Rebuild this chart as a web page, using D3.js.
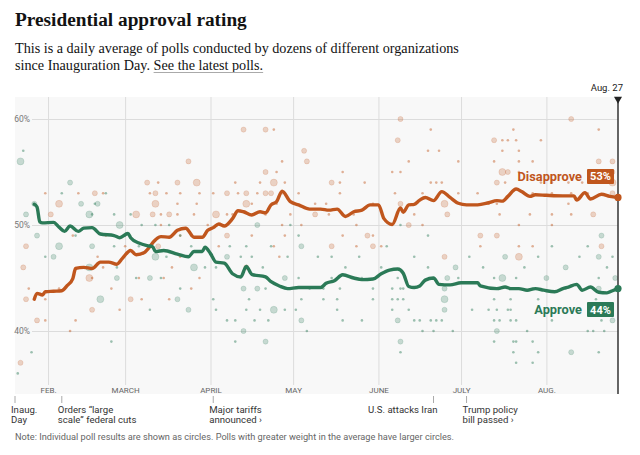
<!DOCTYPE html>
<html>
<head>
<meta charset="utf-8">
<script src="https://cdn.jsdelivr.net/npm/d3@7.9.0/dist/d3.min.js"></script>
<style>
  html, body { margin: 0; padding: 0; background: #fff; }
  svg { display: block; }
  .serif { font-family: "Liberation Serif", "Times New Roman", serif; fill: #121212; white-space: pre; }
  .sans { font-family: Roboto, "Liberation Sans", sans-serif; }
</style>
</head>
<body>
<svg id="chart" width="640" height="455"></svg>
<script>
// ---- data (days since Jan. 20, 2025) ----
const startDate = "2025-01-20";
const endDate = "2025-08-27";

const approveDays = [7, 8, 9, 10, 14, 16, 18, 20, 23, 25, 28, 31, 36, 38, 41, 42, 45, 48, 50, 51, 54, 59, 63, 65, 68, 69, 71, 73, 76, 79, 82, 84, 86, 91, 93, 96, 99, 103, 111, 113, 116, 119, 123, 126, 130, 133, 136, 139, 141, 143, 145, 147, 149, 152, 154, 158, 162, 168, 169, 175, 178, 180, 183, 186, 189, 192, 196, 199, 201, 204, 206, 209, 212, 215, 217, 219];
const approveValues = [51.95, 51.7, 50.3, 50.2, 50.25, 49.8, 49.4, 49.9, 49.4, 49.7, 49.75, 49.15, 49.0, 48.8, 49.2, 48.8, 48.3, 48.05, 47.95, 47.5, 47.6, 47.25, 47.0, 47.5, 47.5, 47.9, 47.3, 46.5, 46.4, 45.4, 45.1, 46.1, 45.35, 45.1, 44.65, 44.25, 44.0, 44.1, 44.1, 44.5, 44.75, 45.3, 45.0, 44.85, 44.9, 45.4, 45.75, 45.85, 45.45, 44.2, 44.1, 44.25, 44.8, 45.0, 44.4, 44.35, 44.55, 44.55, 44.25, 44.0, 44.15, 44.0, 44.0, 43.85, 44.0, 43.85, 43.7, 44.0, 44.15, 44.4, 43.85, 44.15, 43.65, 43.6, 43.8, 44.0];

const disapproveDays = [7, 8, 10, 11, 14, 17, 19, 21, 22, 25, 28, 31, 34, 37, 39, 42, 44, 47, 48, 51, 53, 56, 59, 62, 65, 68, 70, 72, 74, 76, 79, 81, 83, 86, 89, 91, 93, 95, 97, 100, 103, 107, 111, 114, 117, 120, 123, 126, 129, 132, 134, 137, 140, 141, 143, 145, 147, 149, 152, 155, 158, 161, 164, 168, 172, 175, 177, 179, 182, 184, 187, 189, 193, 199, 203, 204, 207, 209, 213, 216, 219];
const disapproveValues = [43.0, 43.55, 43.4, 43.7, 43.75, 43.8, 44.3, 44.95, 45.9, 46.0, 45.9, 46.5, 46.5, 46.3, 46.85, 47.6, 47.2, 47.4, 47.65, 48.6, 48.9, 48.85, 49.5, 49.7, 48.85, 48.85, 49.5, 49.75, 50.1, 49.9, 50.6, 51.35, 51.25, 50.95, 51.25, 51.15, 51.9, 52.2, 53.2, 52.2, 51.9, 51.5, 51.5, 51.4, 51.5, 50.8, 51.25, 51.4, 51.9, 51.9, 50.6, 50.05, 51.6, 51.2, 51.9, 51.95, 52.35, 52.6, 52.3, 53.15, 52.6, 52.05, 51.9, 51.9, 52.1, 52.3, 52.25, 52.7, 53.4, 53.15, 52.7, 52.85, 52.8, 52.75, 52.75, 52.35, 53.05, 52.45, 52.9, 52.7, 52.6];

// individual polls: [day, pct, weight]
const disapprovePolls = [
  [83,59,2],[91,59,2],[94,59,1],[105,57,2],[63,56,2],[97,56,1],[106,56,2],[91,55,2],[95,55,1],
  [48,54,2],[52,54,1],[59,54,2],[66,54,3],[80,54,1],[89,54,1],[94,54,3],[98,54,1],
  [11,53,1],[23,53,1],[29,53,2],[32,53,1],[49,53,1],[51,53,2],[55,53,1],[60,53,1],[67,53,1],[72,53,1],[77,53,2],[81,53,1],[84,53,2],[88,53,1],[91,53,2],[93,53,2],[97,53,1],[103,53,1],
  [16,52,3],[51,52,3],[59,52,1],[66,52,1],[84,52,3],[86,52,1],[95,52,1],[109,52,1],
  [13,51,2],[44,51,3],[50,51,2],[53,51,1],[56,51,2],[59,51,1],[65,51,1],[73,51,3],[77,51,1],[79,51,1],[91,51,1],[100,51,1],[109,51,2],
  [53,50,1],[70,50,1],[97,50,1],[104,50,1],[21,49,1],[33,49,1],[60,49,1],[77,49,2],[86,49,1],[98,49,1],
  [4,48,2],[40,48,1],[52,48,2],[74,48,1],[94,48,1],[30,47,1],[60,47,1],[96,47,1],
  [3,46,2],[32,46,1],[57,46,1],[84,46,2],[27,45,3],[28,45,1],[45,45,1],[54,45,1],[67,45,1],
  [5,44,1],[16,44,1],[35,44,1],[64,44,1],[4,43,2],[11,43,1],[42,43,2],[46,43,1],[56,43,1],
  [28,42,2],[38,42,1],[8,41,2],[11,41,1],[22,41,1],[20,40,1],[2,37,2],
  [140,60,2],[202,60,2],[151,59,1],[181,59,1],[212,59,1],
  [139,58,2],[174,58,2],[177,58,1],[179,58,1],[182,58,1],[191,58,1],
  [150,57,1],[154,57,1],[177,57,1],[183,57,1],
  [143,56,1],[161,56,1],[174,56,1],[183,56,1],[188,56,1],[212,56,2],[217,56,2],
  [119,55,1],[137,55,1],[140,55,1],[177,55,3],[179,55,2],[183,55,1],[217,55,2],
  [115,54,2],[118,54,1],[127,54,1],[151,54,1],[153,54,1],[155,54,1],[175,54,2],[178,54,1],[191,54,1],[195,54,1],[201,54,1],[206,54,1],[217,54,3],
  [118,53,1],[138,53,1],[148,53,1],[161,53,1],[168,53,1],[188,53,1],[195,53,1],[202,53,1],[208,53,1],[217,53,2],
  [113,52,1],[130,52,1],[140,52,2],[156,52,3],[172,52,1],[175,52,1],[201,52,1],
  [114,51,1],[123,51,1],[145,51,1],[157,51,2],[176,51,1],[187,51,1],[195,51,1],[202,51,1],[210,51,2],
  [124,50,1],[143,50,2],[148,50,1],[183,50,1],[195,50,1],
  [119,49,1],[128,49,2],[130,49,1],[169,49,2],[175,49,2],
  [115,48,2],[124,48,1],[130,48,2],[133,48,1],[169,48,1],[183,48,1],[188,48,1],[213,48,2],
  [156,47,2],[183,47,3]
];

const approvePolls = [
  [3,57,1],[2,56,3],[20,54,2],[17,53,1],[33,53,1],[7,52,2],[24,52,2],[29,52,1],[30,52,2],
  [4,51,2],[27,51,3],[28,51,1],[36,51,1],[42,51,1],
  [38,50,3],[46,50,1],[51,50,1],[56,50,1],[88,50,2],[100,50,1],[140,50,1],
  [8,49,2],[22,49,1],[40,49,1],[60,49,1],[64,49,1],[103,49,1],[150,49,1],[213,49,2],
  [16,48,3],[28,48,2],[36,48,1],[45,48,1],[64,48,1],[78,48,1],[84,48,1],[93,48,1],[104,48,2],[135,48,1],[195,48,1],[208,48,1],
  [11,47,1],[14,47,2],[51,47,3],[55,47,1],[77,47,2],[82,47,1],[86,47,1],[99,47,1],[110,47,1],
  [115,47,1],[125,47,1],[145,47,1],[165,47,1],[178,47,2],[190,47,1],[205,47,1],[212,47,2],[217,47,1],
  [27,46,3],[37,46,1],[65,46,3],[69,46,1],[73,46,1],[90,46,1],
  [120,46,1],[133,46,1],[150,46,1],[160,46,2],[170,46,1],[185,46,1],[200,46,2],[215,46,1],
  [37,45,2],[44,45,1],[49,45,2],[53,45,1],[98,45,2],[103,45,1],
  [115,45,1],[126,45,1],[139,45,1],[157,45,2],[161,45,1],[174,45,1],[177,45,3],[182,45,1],[193,45,2],[212,45,1],[218,45,2],
  [60,44,1],[83,44,2],[88,44,2],[91,44,1],[100,44,1],[107,44,1],
  [112,44,1],[118,44,1],[130,44,1],[137,44,1],[140,44,1],[141,44,1],[156,44,2],[176,44,1],[182,44,1],[188,44,1],[200,44,1],[212,44,2],
  [31,43,3],[59,43,2],[72,43,1],[85,43,1],[104,43,1],
  [112,43,1],[117,43,1],[130,43,1],[137,43,1],[139,43,1],[141,43,1],[156,43,3],[174,43,1],[180,43,1],[190,43,1],[211,43,1],
  [49,42,1],[63,42,2],[73,42,1],[84,42,1],[89,42,1],[94,42,3],[98,42,1],[102,42,1],
  [117,42,1],[137,42,1],[143,42,1],[156,42,2],[166,42,1],[172,42,1],[175,42,1],[179,42,1],[180,42,1],
  [77,41,1],[80,41,1],[87,41,1],[92,41,1],[104,41,2],
  [119,41,1],[126,41,1],[139,41,2],[145,41,1],[147,41,1],[151,41,1],[153,41,1],[155,41,1],[174,41,1],[176,41,1],[180,41,1],[182,41,1],[195,41,1],[213,41,1],[217,41,2],
  [83,40,2],[106,40,1],[148,40,1],[152,40,1],[159,40,1],[175,40,2],[186,40,1],[208,40,1],[210,40,1],[214,40,1],
  [35,39,1],[80,39,1],[91,39,2],[140,39,2],[174,39,1],[181,39,1],[182,39,1],[188,39,1],
  [6,38,1],[140,38,1],[181,38,1],[190,38,1],[202,38,2],[212,38,1],[182,37,1],[188,37,1],[1,36,1]
];

const yTicks = [40, 50, 60];
const monthStarts = ["2025-02-01", "2025-03-01", "2025-04-01", "2025-05-01", "2025-06-01", "2025-07-01", "2025-08-01"];
const monthLabels = ["FEB.", "MARCH", "APRIL", "MAY", "JUNE", "JULY", "AUG."];

const eventDates = ["2025-01-20", "2025-02-06", "2025-04-02", "2025-06-21", "2025-07-03"];
const eventLabels = [["Inaug.", "Day"], ["Orders \u201clarge", "scale\u201d federal cuts"], ["Major tariffs", "announced \u203a"], ["U.S. attacks Iran"], ["Trump policy", "bill passed \u203a"]];
const eventAlign = ["start", "start", "start", "end", "start"];

const orange = "#c0561d";
const green = "#2b7a57";

// ---- scales ----
const parse = d3.utcParse("%Y-%m-%d");
const start = parse(startDate);
const dayToDate = d => d3.utcDay.offset(start, d);

const plot = { left: 15, right: 618, top: 97, bottom: 394 };
const x = d3.scaleUtc().domain([start, parse(endDate)]).range([plot.left, plot.right]);
const y = d3.scaleLinear().domain([40, 60]).range([331, 119]);
const r = d3.scaleSqrt().domain([1, 3]).range([1.3, 3.5]);

const svg = d3.select("#chart");

// ---- header ----
svg.append("text").attr("class", "serif")
  .attr("x", 15).attr("y", 26)
  .style("font-size", "19.3px").style("font-weight", "bold")
  .text("Presidential approval rating");

svg.append("text").attr("class", "serif")
  .attr("x", 15).attr("y", 53)
  .style("font-size", "14.2px")
  .text("This is a daily average of polls conducted by dozens of different organizations");

const sub2 = svg.append("text").attr("class", "serif")
  .attr("x", 15).attr("y", 70)
  .style("font-size", "14.2px")
  .text("since Inauguration Day.");
// leave a word space before the link
const linkX = 15 + sub2.node().getComputedTextLength() + 3.6;
const link = svg.append("text").attr("class", "serif")
  .attr("x", linkX).attr("y", 70)
  .style("font-size", "14.2px")
  .text("See the latest polls.");
svg.append("line")
  .attr("x1", linkX).attr("x2", linkX + link.node().getComputedTextLength())
  .attr("y1", 72.5).attr("y2", 72.5)
  .attr("stroke", "#aaa").attr("stroke-width", 1);

// ---- plot background ----
svg.append("rect")
  .attr("x", plot.left).attr("y", plot.top)
  .attr("width", plot.right - plot.left).attr("height", plot.bottom - plot.top)
  .attr("fill", "#f8f8f8");

// month gridlines + labels
const xAxis = d3.axisBottom(x)
  .tickValues(monthStarts.map(parse))
  .tickFormat((d, i) => monthLabels[i])
  .tickSize(-(385 - plot.top))
  .tickPadding(2);

const gx = svg.append("g").attr("transform", "translate(0,385)").call(xAxis);
gx.select(".domain").remove();
gx.selectAll("line").attr("stroke", "#dcdcdc");
gx.selectAll("text").attr("class", "sans").attr("fill", "#666").style("font-size", "8px");

// horizontal gridlines + labels
const yAxis = d3.axisLeft(y)
  .tickValues(yTicks)
  .tickFormat(d => d + "%")
  .tickSize(-(plot.right - 32))
  .tickPadding(2);

const gy = svg.append("g").attr("transform", "translate(32,0)").call(yAxis);
gy.select(".domain").remove();
gy.selectAll("line").attr("stroke", "#dcdcdc");
gy.selectAll("text").attr("class", "sans").attr("fill", "#777").style("font-size", "8.5px");

// ---- poll circles ----
function drawPolls(polls, color) {
  svg.append("g").selectAll("circle")
    .data(polls)
    .join("circle")
    .attr("cx", d => x(dayToDate(d[0])))
    .attr("cy", d => y(d[1]))
    .attr("r", d => r(d[2]))
    .attr("fill", color)
    .attr("fill-opacity", d => d[2] === 1 ? 0.45 : 0.24)
    .attr("stroke", color)
    .attr("stroke-opacity", d => d[2] === 1 ? 0 : 0.2)
    .attr("stroke-width", 0.8);
}
drawPolls(disapprovePolls, orange);
drawPolls(approvePolls, green);

// ---- average lines ----
const line = d3.line()
  .x(d => x(dayToDate(d[0])))
  .y(d => y(d[1]))
  .curve(d3.curveMonotoneX);

const disapprove = d3.zip(disapproveDays, disapproveValues);
const approve = d3.zip(approveDays, approveValues);

[[disapprove, orange], [approve, green]].forEach(([data, color]) => {
  svg.append("path")
    .datum(data)
    .attr("d", line)
    .attr("fill", "none")
    .attr("stroke", color)
    .attr("stroke-width", 3.4)
    .attr("stroke-linejoin", "round")
    .attr("stroke-linecap", "round");
});

// ---- end marker ----
svg.append("line")
  .attr("x1", plot.right).attr("x2", plot.right)
  .attr("y1", plot.top).attr("y2", plot.bottom)
  .attr("stroke", "#333").attr("stroke-width", 1.5);
svg.append("path")
  .attr("d", d3.symbol(d3.symbolTriangle, 28)())
  .attr("transform", `translate(${plot.right},${plot.top + 2}) rotate(180)`)
  .attr("fill", "#222");
svg.append("text").attr("class", "sans")
  .attr("x", 623).attr("y", 91)
  .attr("text-anchor", "end")
  .attr("fill", "#222").style("font-size", "9.5px")
  .text("Aug. 27");

[[disapprove, orange, "Disapprove", -21], [approve, green, "Approve", 21]].forEach(([data, color, name, off]) => {
  const last = data[data.length - 1];
  const cy = y(last[1]);
  svg.append("circle")
    .attr("cx", x(dayToDate(last[0]))).attr("cy", cy)
    .attr("r", 3.6).attr("fill", color);

  const ly = cy + off;
  svg.append("rect")
    .attr("x", 587).attr("y", ly - 7.5)
    .attr("width", 27).attr("height", 15)
    .attr("rx", 1)
    .attr("fill", color);
  svg.append("text").attr("class", "sans")
    .attr("x", 600.5).attr("y", ly + 4)
    .attr("text-anchor", "middle")
    .attr("fill", "#fff").style("font-size", "11px").style("font-weight", "bold")
    .text(Math.round(last[1]) + "%");
  svg.append("text").attr("class", "sans")
    .attr("x", 582).attr("y", ly + 4.5)
    .attr("text-anchor", "end")
    .attr("fill", color).style("font-size", "12.8px").style("font-weight", "bold")
    .text(name);
});

// ---- event annotations ----
const events = svg.append("g").selectAll("g")
  .data(eventDates.map((d, i) => ({ date: parse(d), lines: eventLabels[i], align: eventAlign[i] })))
  .join("g")
  .attr("transform", d => `translate(${x(d.date)},0)`);

events.append("line")
  .attr("y1", 396).attr("y2", 403)
  .attr("stroke", "#aaa");

events.append("text").attr("class", "sans")
  .attr("text-anchor", d => d.align)
  .attr("fill", "#333").style("font-size", "9.6px")
  .selectAll("tspan")
  .data(d => d.lines.map(t => ({ t, align: d.align })))
  .join("tspan")
  .attr("x", d => d.align === "end" ? 4 : -4)
  .attr("y", (d, i) => 413 + i * 10)
  .text(d => d.t);

// ---- note ----
svg.append("text").attr("class", "sans")
  .attr("x", 15).attr("y", 440)
  .attr("fill", "#666").style("font-size", "9.2px")
  .text("Note: Individual poll results are shown as circles. Polls with greater weight in the average have larger circles.");
</script>
</body>
</html>
